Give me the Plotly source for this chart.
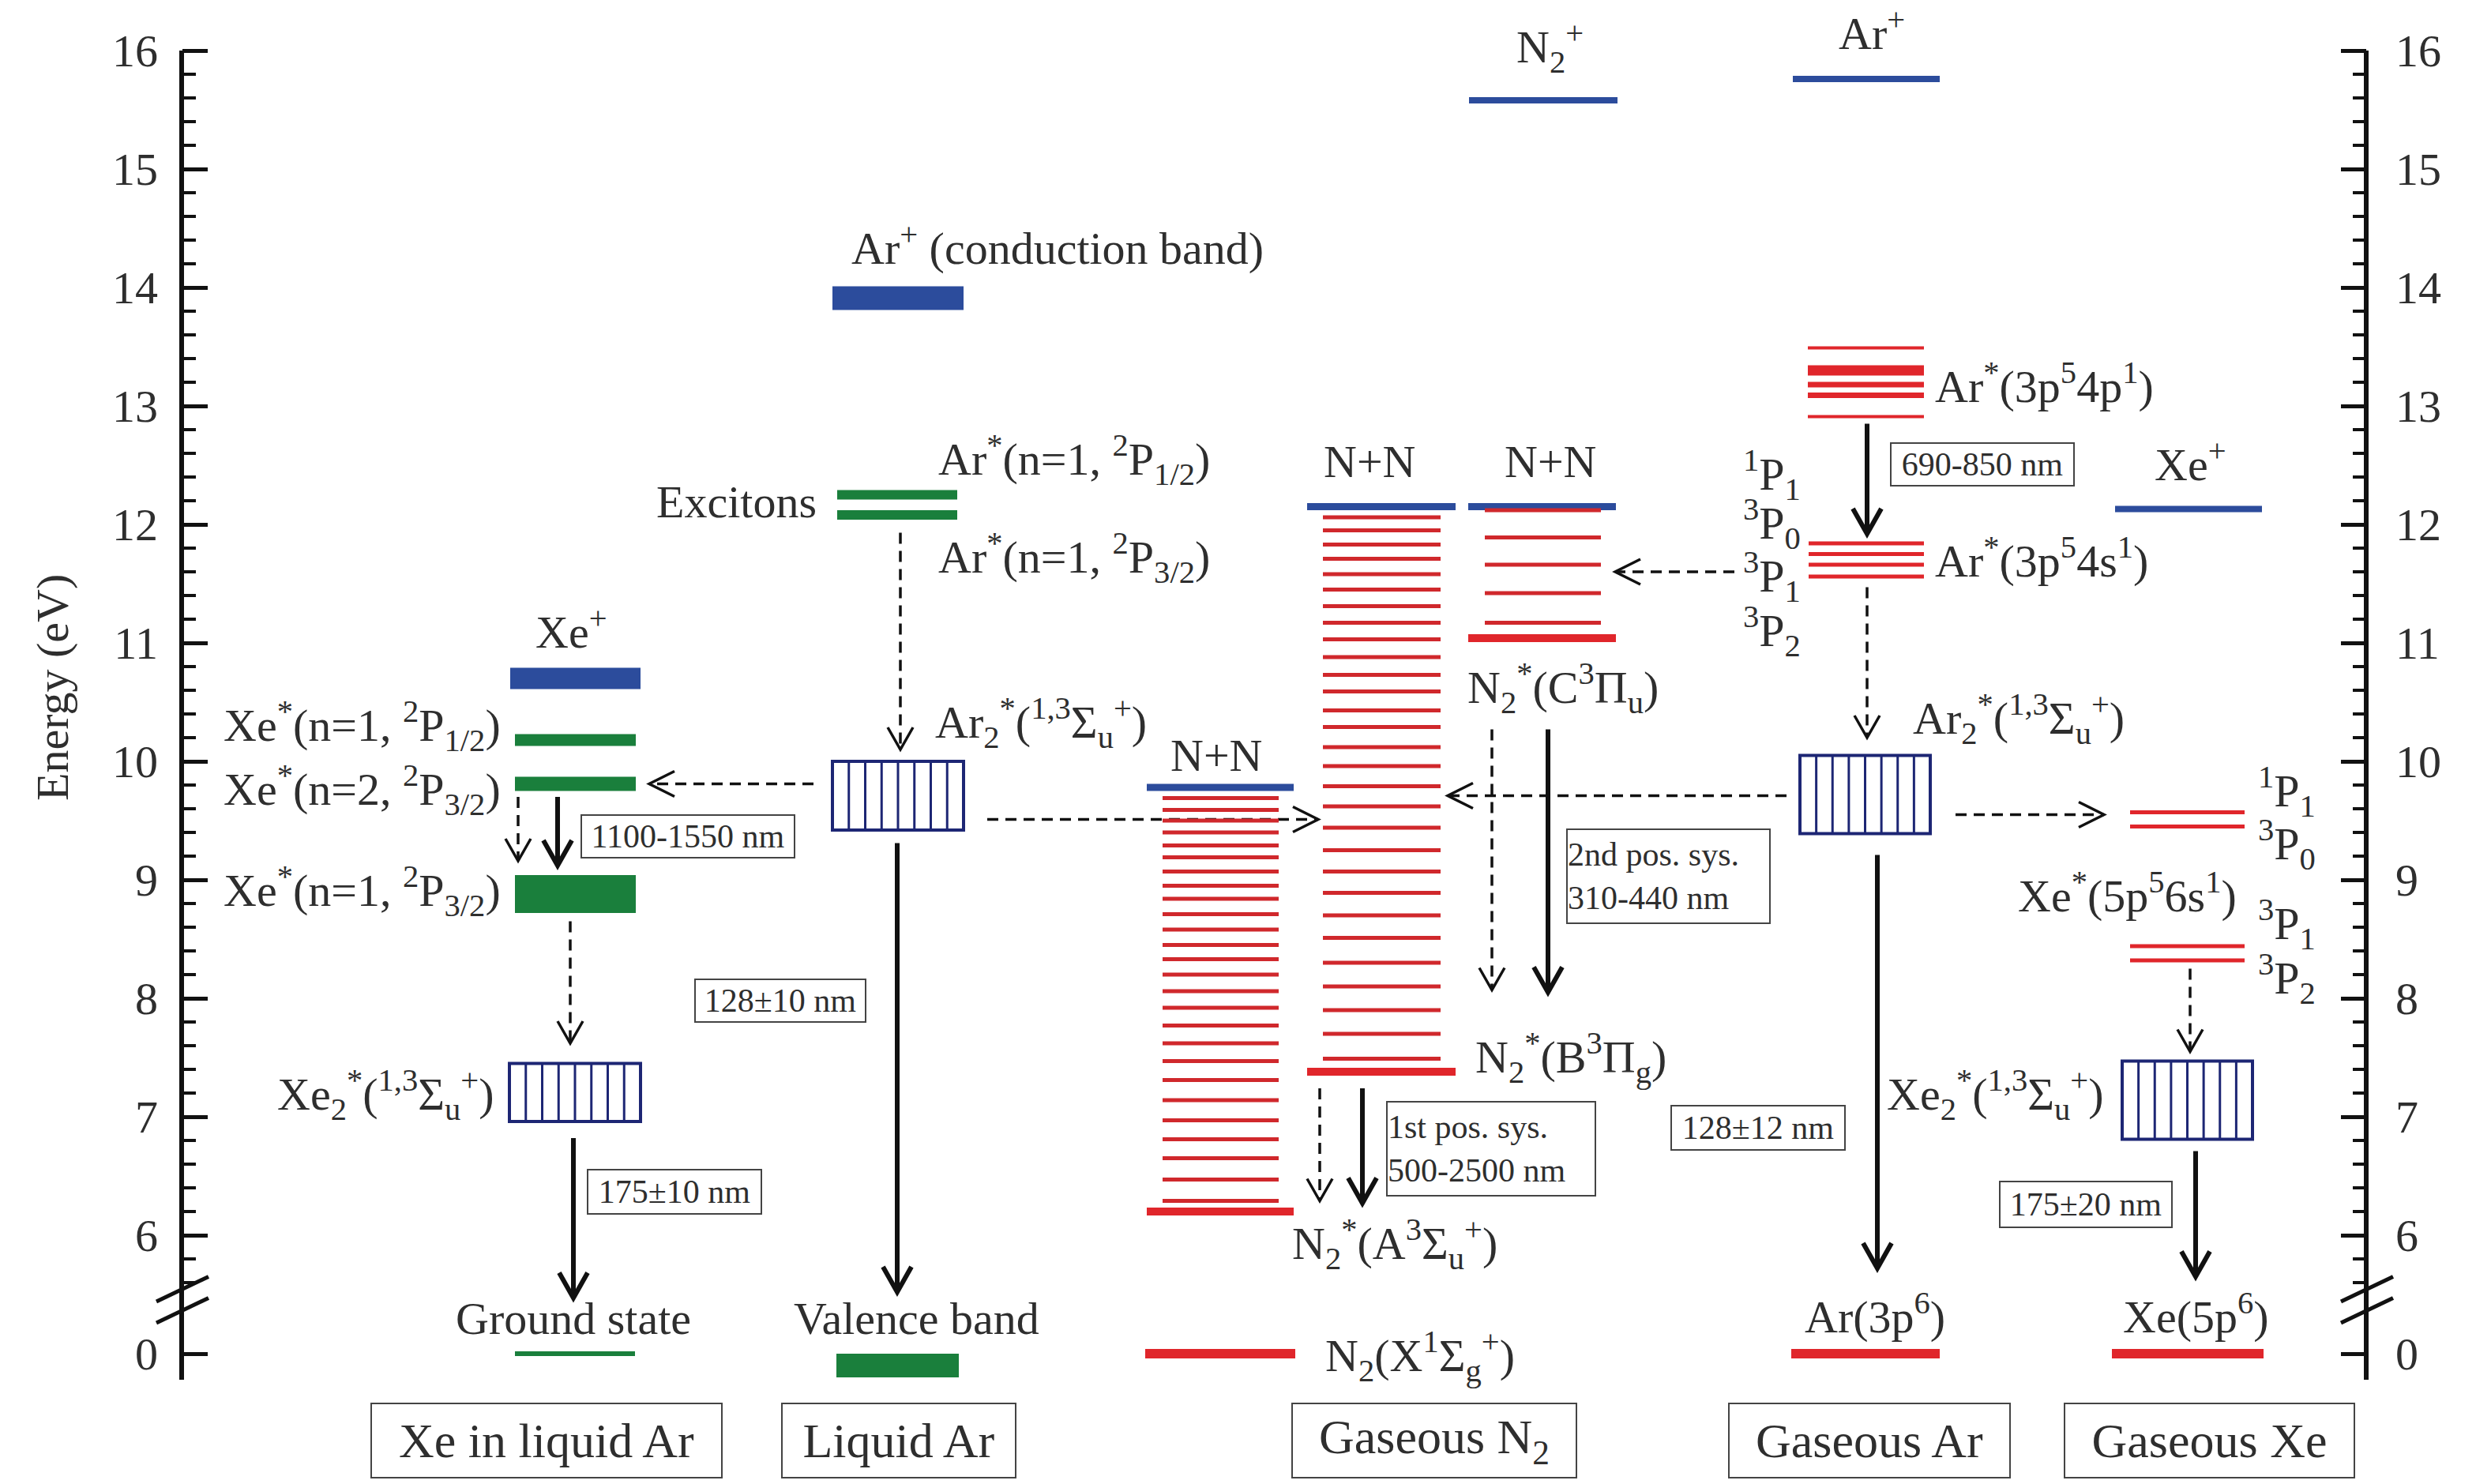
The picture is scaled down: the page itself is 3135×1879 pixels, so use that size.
import numpy as np
import plotly.graph_objects as go

# ---------------- state energies (eV) ----------------
# Xe-doped liquid argon
xe_lar_ion_band = [10.61, 10.79]          # Xe+
xe_lar_exciton_lines = [10.18, 9.81]      # Xe*(n=1, 2P1/2), Xe*(n=2, 2P3/2)
xe_lar_n1_band = [8.72, 9.04]             # Xe*(n=1, 2P3/2)
xe_lar_dimer_band = [6.96, 7.45]          # Xe2*(1,3Σu+)
xe_lar_ground = 0.0

# liquid argon
lar_conduction_band = [13.81, 14.01]
lar_exciton_lines = [12.25, 12.08]
lar_dimer_band = [9.42, 10.00]
lar_valence_band = [-0.20, 0.0]

# gaseous N2
n2_ion = 15.58
n2_nn_upper = 12.15
n2_nn_lower = 9.78
n2_a_vib = [9.69, 9.59, 9.50, 9.40, 9.29, 9.19, 9.07, 8.95, 8.84, 8.71, 8.58,
            8.45, 8.33, 8.20, 8.06, 7.92, 7.77, 7.62, 7.47, 7.31, 7.14, 6.97,
            6.81, 6.65, 6.47, 6.29]
n2_a_state = 6.20
n2_b_vib = [12.06, 11.95, 11.83, 11.71, 11.58, 11.45, 11.31, 11.17, 11.03,
            10.88, 10.73, 10.59, 10.43, 10.29, 10.12, 9.96, 9.79, 9.62, 9.44,
            9.25, 9.07, 8.89, 8.70, 8.51, 8.30, 8.10, 7.90, 7.70, 7.49]
n2_b_state = 7.38
n2_c_vib = [12.12, 11.89, 11.66, 11.42, 11.17]
n2_c_state = 11.04
n2_ground = 0.0

# gaseous argon
ar_ion = 15.76
ar_4p_levels = [13.49, 13.32, 13.28, 13.18, 13.09, 12.91]
ar_4p_widths = [4, 7, 7, 7, 7, 4]
ar_4s_levels = [11.84, 11.75, 11.66, 11.56]
ar_dimer_band = [9.39, 10.05]
ar_ground = 0.0

# gaseous xenon
xe_ion = 12.13
xe_6s_levels = [9.57, 9.45, 8.44, 8.32]
xe_dimer_band = [6.81, 7.47]
xe_ground = 0.0

# axis ticks (energy axis is broken between 0 and 6 eV)
tick_energies = [0, 6, 7, 8, 9, 10, 11, 12, 13, 14, 15, 16]
tick_labels = [str(v) for v in tick_energies]

categories = ["Xe in liquid Ar", "Liquid Ar", "Gaseous N<sub>2</sub>",
              "Gaseous Ar", "Gaseous Xe"]

# ---------------- styling ----------------
FONT = "Liberation Serif, Times New Roman, serif"
TEXT = "#2e2e2e"
INK = "#111111"
BLUE = "#2c4c9c"
GREEN = "#1a7f3c"
RED = "#e0262b"
RED_DARK = "#d0282c"
NAVY = "#1d2674"
FS = 58
FS_BOX = 42
FS_CAT = 62
W, H = 3135, 1879
PX_PER_EV = 150.0
Y_TOP = 16 + 64 / PX_PER_EV
Y_BOT = Y_TOP - H / PX_PER_EV
ZERO_AT = 5.0          # where 0 eV sits on the broken axis
DASH = "14px,9px"


def pos(e):
    """Energy -> position on the broken energy axis."""
    return e + ZERO_AT if e < 1 else e


fig = go.Figure()

# invisible anchors so both energy axes are laid out
fig.add_trace(go.Scatter(x=[0], y=[10], mode="markers", marker=dict(opacity=0),
                         hoverinfo="skip", showlegend=False))
fig.add_trace(go.Scatter(x=[0], y=[10], mode="markers", marker=dict(opacity=0),
                         hoverinfo="skip", showlegend=False, yaxis="y2"))


def hline(x0, x1, e, color, w):
    fig.add_shape(type="line", x0=x0, x1=x1, y0=pos(e), y1=pos(e),
                  line=dict(color=color, width=w))


def band(x0, x1, e0, e1, color):
    fig.add_shape(type="rect", x0=x0, x1=x1, y0=pos(e0), y1=pos(e1),
                  fillcolor=color, line=dict(width=0))


def dimer_box(x0, x1, e0, e1, cells=8):
    fig.add_shape(type="rect", x0=x0, x1=x1, y0=e0, y1=e1,
                  fillcolor="white", line=dict(color=NAVY, width=4))
    for k in range(1, cells):
        xk = x0 + k * (x1 - x0) / cells
        fig.add_shape(type="line", x0=xk, x1=xk, y0=e0, y1=e1,
                      line=dict(color=NAVY, width=3))


def varrow(x, y_from, y_to, dashed=False):
    w = 3.5 if dashed else 6
    hw = 16 if dashed else 18
    hl = (28 if dashed else 32) / PX_PER_EV
    fig.add_shape(type="line", x0=x, x1=x, y0=y_from, y1=y_to,
                  line=dict(color=INK, width=w, dash=DASH if dashed else "solid"))
    fig.add_shape(type="path",
                  path=f"M {x - hw},{y_to + hl} L {x},{y_to} L {x + hw},{y_to + hl}",
                  line=dict(color=INK, width=w))


def harrow(y, x_from, x_to):
    w = 3.5
    sgn = 1 if x_to > x_from else -1
    hl = 32
    hw = 16 / PX_PER_EV
    fig.add_shape(type="line", x0=x_from, x1=x_to, y0=y, y1=y,
                  line=dict(color=INK, width=w, dash=DASH))
    fig.add_shape(type="path",
                  path=f"M {x_to - sgn * hl},{y + hw} L {x_to},{y} L {x_to - sgn * hl},{y - hw}",
                  line=dict(color=INK, width=w))


def label(x, y, text, xanchor="center", size=FS, yanchor="middle"):
    fig.add_annotation(x=x, y=y, text=text, showarrow=False, xanchor=xanchor,
                       yanchor=yanchor, font=dict(family=FONT, size=size, color=TEXT))


def boxed(x, y, text, w, h, size=FS_BOX, align="center"):
    fig.add_annotation(x=x, y=y, text=text, showarrow=False, xanchor="center",
                       yanchor="middle", width=w, height=h, align=align,
                       bordercolor="#444444", borderwidth=2, borderpad=0,
                       bgcolor="white", font=dict(family=FONT, size=size, color=TEXT))


# ---------------- Xe in liquid Ar ----------------
band(646, 811, *xe_lar_ion_band, BLUE)
hline(652, 805, xe_lar_exciton_lines[0], GREEN, 15)
hline(652, 805, xe_lar_exciton_lines[1], GREEN, 18)
band(652, 805, *xe_lar_n1_band, GREEN)
dimer_box(645, 811, *xe_lar_dimer_band)
hline(652, 804, xe_lar_ground, GREEN, 6)

label(723, 11.12, "Xe<sup>+</sup>")
label(636, 10.30, "Xe<sup>*</sup>(n=1, <sup>2</sup>P<sub>1/2</sub>)", xanchor="right")
label(636, 9.76, "Xe<sup>*</sup>(n=2, <sup>2</sup>P<sub>3/2</sub>)", xanchor="right")
label(636, 8.91, "Xe<sup>*</sup>(n=1, <sup>2</sup>P<sub>3/2</sub>)", xanchor="right")
label(628, 7.19, "Xe<sub>2</sub><sup>*</sup>(<sup>1,3</sup>Σ<sub>u</sub><sup>+</sup>)", xanchor="right")
label(726, 5.30, "Ground state")

varrow(656, 9.70, 9.16, dashed=True)
varrow(706, 9.70, 9.12)
varrow(722, 8.65, 7.62, dashed=True)
varrow(726, 6.82, 5.47)
boxed(871, 9.37, "1100-1550 nm", 268, 52)
boxed(854, 6.37, "175±10 nm", 218, 54)

# ---------------- liquid Ar ----------------
band(1054, 1220, *lar_conduction_band, BLUE)
hline(1060, 1212, lar_exciton_lines[0], GREEN, 12)
hline(1060, 1212, lar_exciton_lines[1], GREEN, 12)
dimer_box(1054, 1220, *lar_dimer_band)
band(1059, 1214, *lar_valence_band, GREEN)

label(1076, 14.36, "Ar<sup>+</sup> (conduction band)", xanchor="left")
label(1036, 12.19, "Excitons", xanchor="right")
label(1186, 12.55, "Ar<sup>*</sup>(n=1, <sup>2</sup>P<sub>1/2</sub>)", xanchor="left")
label(1186, 11.72, "Ar<sup>*</sup>(n=1, <sup>2</sup>P<sub>3/2</sub>)", xanchor="left")
label(1182, 10.33, "Ar<sub>2</sub><sup>*</sup>(<sup>1,3</sup>Σ<sub>u</sub><sup>+</sup>)", xanchor="left")
label(1160, 5.30, "Valence band")

varrow(1140, 11.93, 10.10, dashed=True)
varrow(1136, 9.31, 5.52)
harrow(xe_lar_exciton_lines[1], 1030, 822)
harrow(9.51, 1250, 1669)
boxed(988, 7.98, "128±10 nm", 214, 52)

# ---------------- gaseous N2 ----------------
hline(1860, 2048, n2_ion, BLUE, 8)
label(1962, 16.03, "N<sub>2</sub><sup>+</sup>")

# A-state ladder
for e in n2_a_vib:
    hline(1472, 1619, e, RED_DARK, 5)
hline(1452, 1638, n2_a_state, RED, 10)
hline(1452, 1638, n2_nn_lower, BLUE, 9)
label(1540, 10.05, "N+N")

# B-state ladder
for e in n2_b_vib:
    hline(1675, 1824, e, RED_DARK, 5)
hline(1655, 1843, n2_b_state, RED, 10)
hline(1655, 1843, n2_nn_upper, BLUE, 9)
label(1734, 12.53, "N+N")

# C-state ladder
hline(1859, 2046, n2_nn_upper, BLUE, 9)
for e in n2_c_vib:
    hline(1880, 2027, e, RED_DARK, 5)
hline(1859, 2046, n2_c_state, RED, 10)
label(1963, 12.53, "N+N")

hline(1450, 1640, n2_ground, RED, 12)

label(1856, 10.62, "N<sub>2</sub><sup>*</sup>(C<sup>3</sup>Π<sub>u</sub>)", xanchor="left")
label(1866, 7.50, "N<sub>2</sub><sup>*</sup>(B<sup>3</sup>Π<sub>g</sub>)", xanchor="left")
label(1634, 5.93, "N<sub>2</sub><sup>*</sup>(A<sup>3</sup>Σ<sub>u</sub><sup>+</sup>)", xanchor="left")
label(1676, 4.98, "N<sub>2</sub>(X<sup>1</sup>Σ<sub>g</sub><sup>+</sup>)", xanchor="left")

varrow(1889, 10.27, 8.07, dashed=True)
varrow(1960, 10.27, 8.05)
varrow(1671, 7.24, 6.29, dashed=True)
varrow(1725, 7.24, 6.27)
boxed(2112, 9.03, "2nd pos. sys.<br>310-440 nm", 255, 117, align="left")
boxed(1888, 6.73, "1st pos. sys.<br>500-2500 nm", 262, 117, align="left")

# ---------------- gaseous Ar ----------------
hline(2270, 2456, ar_ion, BLUE, 8)
label(2370, 16.17, "Ar<sup>+</sup>")
for e, lw in zip(ar_4p_levels, ar_4p_widths):
    hline(2289, 2436, e, RED, lw)
for e in ar_4s_levels:
    hline(2290, 2436, e, RED, 5)
dimer_box(2279, 2444, *ar_dimer_band)
hline(2268, 2456, ar_ground, RED, 12)

label(2448, 13.19, "Ar<sup>*</sup>(3p<sup>5</sup>4p<sup>1</sup>)", xanchor="left")
label(2448, 11.72, "Ar<sup>*</sup>(3p<sup>5</sup>4s<sup>1</sup>)", xanchor="left")
label(2282, 12.42, "<sup>1</sup>P<sub>1</sub>", xanchor="right")
label(2282, 12.01, "<sup>3</sup>P<sub>0</sub>", xanchor="right")
label(2282, 11.56, "<sup>3</sup>P<sub>1</sub>", xanchor="right")
label(2282, 11.10, "<sup>3</sup>P<sub>2</sub>", xanchor="right")
label(2420, 10.36, "Ar<sub>2</sub><sup>*</sup>(<sup>1,3</sup>Σ<sub>u</sub><sup>+</sup>)", xanchor="left")
label(2374, 5.34, "Ar(3p<sup>6</sup>)")

varrow(2364, 12.85, 11.92)
varrow(2364, 11.47, 10.20, dashed=True)
harrow(11.60, 2196, 2045)
harrow(9.71, 2262, 1833)
harrow(9.55, 2476, 2664)
varrow(2377, 9.21, 5.72)
boxed(2510, 12.51, "690-850 nm", 230, 52)
boxed(2226, 6.91, "128±12 nm", 218, 54)

# ---------------- gaseous Xe ----------------
hline(2678, 2864, xe_ion, BLUE, 8)
label(2773, 12.53, "Xe<sup>+</sup>")
for e in xe_6s_levels:
    hline(2697, 2842, e, RED, 5)
dimer_box(2687, 2852, *xe_dimer_band)
hline(2674, 2866, xe_ground, RED, 12)

label(2857, 9.75, "<sup>1</sup>P<sub>1</sub>", xanchor="left")
label(2857, 9.30, "<sup>3</sup>P<sub>0</sub>", xanchor="left")
label(2857, 8.63, "<sup>3</sup>P<sub>1</sub>", xanchor="left")
label(2857, 8.17, "<sup>3</sup>P<sub>2</sub>", xanchor="left")
label(2834, 8.89, "Xe<sup>*</sup>(5p<sup>5</sup>6s<sup>1</sup>)", xanchor="right")
label(2666, 7.19, "Xe<sub>2</sub><sup>*</sup>(<sup>1,3</sup>Σ<sub>u</sub><sup>+</sup>)", xanchor="right")
label(2780, 5.34, "Xe(5p<sup>6</sup>)")

varrow(2773, 8.25, 7.55, dashed=True)
varrow(2780, 6.71, 5.65)
boxed(2641, 6.26, "175±20 nm", 216, 56)

# ---------------- category boxes ----------------
cat_x = [692, 1138, 1816, 2367, 2797]
cat_w = [442, 294, 358, 354, 365]
for cx, cw, name in zip(cat_x, cat_w, categories):
    boxed(cx, 4.27, name, cw, 92, size=FS_CAT)

# ---------------- energy axes ----------------
AX_L, AX_R = 230, 2996
for xa in (AX_L, AX_R):
    fig.add_shape(type="line", x0=xa, x1=xa, y0=4.78, y1=16.0,
                  line=dict(color=INK, width=6))
    # axis-break marks
    fig.add_shape(type="line", x0=xa - 32, x1=xa + 34, y0=5.26, y1=5.47,
                  line=dict(color=INK, width=5))
    fig.add_shape(type="line", x0=xa - 32, x1=xa + 34, y0=5.44, y1=5.65,
                  line=dict(color=INK, width=5))

label(66, 10.62, "Energy (eV)")
fig.layout.annotations[-1].textangle = -90

major_pos = [pos(e) for e in tick_energies]
minor_pos = [round(v, 1) for v in np.arange(5.6, 16.0, 0.2)
             if abs(v - round(v)) > 1e-6]

axis_common = dict(
    range=[Y_BOT, Y_TOP], domain=[0, 1], anchor="free",
    showgrid=False, zeroline=False, showline=False,
    tickmode="array", tickvals=major_pos, ticktext=tick_labels,
    ticks="inside", ticklen=32, tickwidth=5, tickcolor=INK,
    tickfont=dict(family=FONT, size=FS, color=TEXT),
    minor=dict(tickmode="array", tickvals=minor_pos, ticks="inside",
               ticklen=17, tickwidth=4, tickcolor=INK, showgrid=False),
    automargin=False, fixedrange=True,
)

fig.update_layout(
    template="none",
    width=W, height=H, autosize=False,
    margin=dict(l=0, r=0, t=0, b=0, pad=0),
    paper_bgcolor="white", plot_bgcolor="white",
    showlegend=False,
    font=dict(family=FONT, color=TEXT),
    xaxis=dict(range=[0, W], domain=[0, 1], visible=False, fixedrange=True),
    yaxis=dict(**axis_common, side="left", position=AX_L / W, ticklabelstandoff=30),
    yaxis2=dict(**axis_common, side="right", overlaying="y",
                position=AX_R / W, ticklabelstandoff=36),
)

fig.write_html("out.html")
